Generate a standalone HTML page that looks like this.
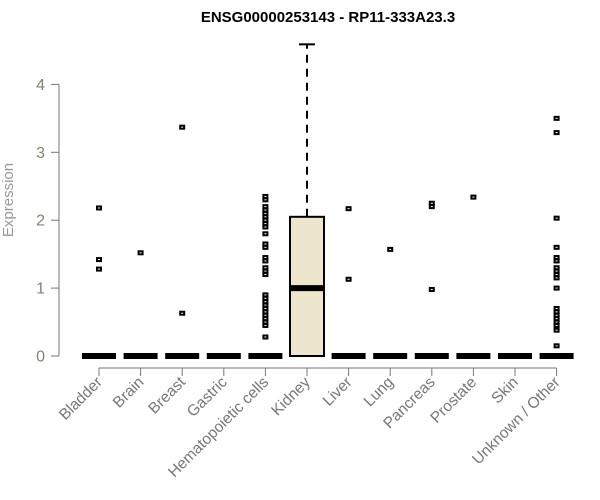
<!DOCTYPE html>
<html><head><meta charset="utf-8"><style>
body{margin:0;background:#fff;}
svg{display:block;font-family:"Liberation Sans",Arial,sans-serif;}
</style></head><body>
<svg id="chart" width="600" height="500" viewBox="0 0 600 500">
<text x="328" y="22" text-anchor="middle" font-size="15" font-weight="bold">ENSG00000253143 - RP11-333A23.3</text>
<text transform="translate(13,200) rotate(-90)" text-anchor="middle" font-size="15" fill="#999">Expression</text>
<g id="yaxis"></g>
<g id="xaxis"></g>
<g id="marks"></g>
</svg>
<script>
const categories=["Bladder","Brain","Breast","Gastric","Hematopoietic cells","Kidney","Liver","Lung","Pancreas","Prostate","Skin","Unknown / Other"];
const q1=[0,0,0,0,0,0,0,0,0,0,0,0];
const medians=[0,0,0,0,0,1.0,0,0,0,0,0,0];
const q3=[0,0,0,0,0,2.05,0,0,0,0,0,0];
const whiskLo=[0,0,0,0,0,0,0,0,0,0,0,0];
const whiskHi=[0,0,0,0,0,4.59,0,0,0,0,0,0];
const outliers=[
[2.18,1.42,1.28],
[1.52],
[3.37,0.63],
[],
[2.35,2.3,2.2,2.15,2.1,2.05,2.0,1.95,1.9,1.8,1.65,1.6,1.45,1.4,1.3,1.25,1.2,0.9,0.85,0.8,0.75,0.7,0.65,0.6,0.55,0.5,0.45,0.28],
[],
[2.17,1.13],
[1.57],
[2.25,2.2,0.98],
[2.34],
[],
[3.5,3.29,2.03,1.6,1.45,1.4,1.3,1.25,1.2,1.15,1.0,0.7,0.65,0.6,0.55,0.5,0.45,0.38,0.15]
];
const yTicks=[0,1,2,3,4];
const NS="http://www.w3.org/2000/svg";
function y(v){return 356-v*67.9;}
function x(i){return 99+i*41.6;}
function mk(tag,attrs,parent){const e=document.createElementNS(NS,tag);for(const k in attrs)e.setAttribute(k,attrs[k]);parent.appendChild(e);return e;}
const ya=document.getElementById('yaxis'),xa=document.getElementById('xaxis'),m=document.getElementById('marks');
let l=mk('line',{x1:59,x2:59,y1:y(yTicks[0]),y2:y(yTicks[yTicks.length-1]),stroke:'#777'},ya);


yTicks.forEach(t=>{
 const tk=mk('line',{x1:51,x2:59,y1:y(t),y2:y(t),stroke:'#777'},ya);
 
 
 const tx=mk('text',{x:45,y:y(t)+5.5,'text-anchor':'end','font-size':16,fill:'#8a8070'},ya);
 tx.textContent=t;
 
 
});
l=mk('line',{x1:x(0),x2:x(categories.length-1),y1:368,y2:368,stroke:'#777'},xa);


categories.forEach((c,i)=>{
 const cx=x(i);
 const tk=mk('line',{x1:cx,x2:cx,y1:368,y2:376,stroke:'#777'},xa);
 
 
 const tx=mk('text',{transform:`translate(${cx+4},${383}) rotate(-45)`,'text-anchor':'end','font-size':15.5,fill:'#777'},xa);
 tx.textContent=c;
 
 
 const g=mk('g',{},m);
 
 
 const w=34;
 if(whiskHi[i]>q3[i]){
  mk('line',{x1:cx,x2:cx,y1:y(q3[i]),y2:y(whiskHi[i]),stroke:'#000','stroke-width':2,'stroke-dasharray':'8,6'},g);
  mk('line',{x1:cx-8,x2:cx+8,y1:y(whiskHi[i]),y2:y(whiskHi[i]),stroke:'#000','stroke-width':2},g);
 }
 if(q3[i]>q1[i]){
  mk('rect',{x:cx-w/2,y:y(q3[i]),width:w,height:y(q1[i])-y(q3[i]),fill:'#ede6cd',stroke:'#000','stroke-width':2},g);
 }
 mk('line',{x1:cx-w/2,x2:cx+w/2,y1:y(medians[i]),y2:y(medians[i]),stroke:'#000','stroke-width':6},g);
 outliers[i].forEach(v=>{
  const r=mk('rect',{x:cx-2,y:y(v)-1.5,width:4,height:3,fill:'#fff',stroke:'#000','stroke-width':2},g);
  
  
 });
});
</script>
</body></html>
